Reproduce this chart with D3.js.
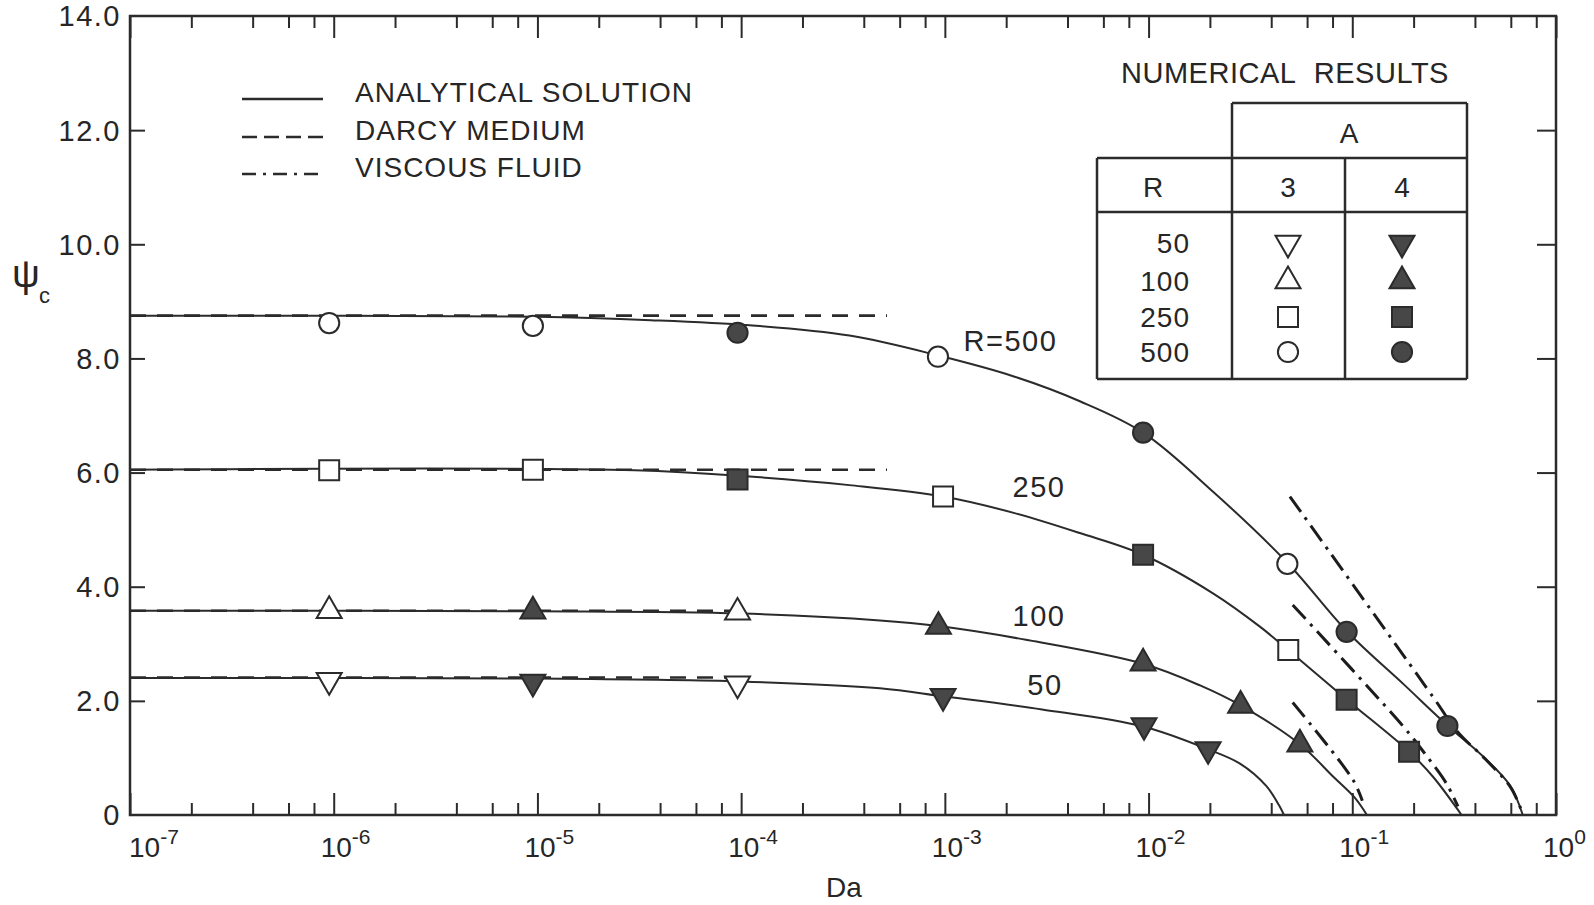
<!DOCTYPE html>
<html><head><meta charset="utf-8">
<script src="https://cdn.jsdelivr.net/npm/d3@7"></script>
<style>
html,body{margin:0;padding:0;background:#fff;}
svg{display:block;}
text{font-family:"Liberation Sans",Arial,sans-serif;fill:#262626;}
</style></head><body>
<svg id="chart" width="1594" height="905"></svg>
<script>
// ---------------- data ----------------
const decadeExponents = [-7, -6, -5, -4, -3, -2, -1, 0];
const minorMultipliers = [2, 4, 6, 8];
const yTickValues = [2, 4, 6, 8, 10, 12];
const yLabelValues = [0, 2, 4, 6, 8, 10, 12, 14];
const yLabelTexts = ["0", "2.0", "4.0", "6.0", "8.0", "10.0", "12.0", "14.0"];

// analytical solution  [Da, psi_c]
const analyticalR500 = [[1e-7,8.75],[1e-5,8.73],[3.6e-5,8.67],[1.1e-4,8.58],[3.4e-4,8.40],[9.3e-4,8.05],[2.2e-3,7.68],[4.6e-3,7.25],[9.4e-3,6.70],[0.0208,5.66],[0.048,4.42],[0.094,3.22],[0.18,2.28],[0.293,1.57],[0.44,1.02],[0.594,0.52],[0.687,0]];
const analyticalR250 = [[1e-7,6.05],[3e-5,6.04],[1.1e-4,5.93],[3.4e-4,5.78],[9.8e-4,5.58],[2.2e-3,5.29],[4.6e-3,4.94],[9.4e-3,4.56],[0.0208,3.88],[0.0352,3.30],[0.0485,2.89],[0.094,2.02],[0.19,1.11],[0.249,0.67],[0.344,0]];
const analyticalR100 = [[1e-7,3.58],[1e-5,3.57],[1e-4,3.53],[4.8e-4,3.41],[9.3e-4,3.31],[2.5e-3,3.07],[9.4e-3,2.65],[0.0179,2.27],[0.0283,1.92],[0.0553,1.24],[0.0807,0.67],[0.103,0.30],[0.118,0]];
const analyticalR50 = [[1e-7,2.40],[1e-5,2.39],[1e-4,2.34],[4.8e-4,2.22],[9.8e-4,2.08],[3e-3,1.85],[9.4e-3,1.55],[0.0196,1.15],[0.0281,0.90],[0.0378,0.51],[0.0437,0.17],[0.0462,0]];

// Darcy medium  (psi level, Da end)
const darcyR = [500, 250, 100, 50];
const darcyPsi = [8.75, 6.05, 3.58, 2.41];
const darcyEndDa = [5.2e-4, 5.2e-4, 9e-5, 9e-5];

// viscous fluid asymptotes [Da, psi_c]
const viscousR500 = [[0.0494,5.58],[0.249,2.07],[0.33,1.45],[0.45,0.98],[0.6,0.48],[0.68,0.06]];
const viscousR250 = [[0.051,3.68],[0.178,1.55],[0.23,1.05],[0.29,0.55],[0.33,0.15]];
const viscousR100 = [[0.051,1.97],[0.101,0.61],[0.112,0.25]];

// numerical results, A = 3 (open symbols)
const numA3R50  = [[9.5e-7,2.36],[9.6e-5,2.30]];
const numA3R100 = [[9.5e-7,3.58],[9.6e-5,3.55]];
const numA3R250 = [[9.5e-7,6.04],[9.5e-6,6.05],[9.8e-4,5.58],[0.0485,2.89]];
const numA3R500 = [[9.5e-7,8.62],[9.5e-6,8.57],[9.25e-4,8.03],[0.048,4.40]];
// numerical results, A = 4 (filled symbols)
const numA4R50  = [[9.5e-6,2.33],[9.8e-4,2.08],[9.5e-3,1.57],[0.0196,1.15]];
const numA4R100 = [[9.5e-6,3.57],[9.3e-4,3.30],[9.4e-3,2.66],[0.0283,1.92],[0.0553,1.24]];
const numA4R250 = [[9.6e-5,5.88],[9.4e-3,4.56],[0.0938,2.02],[0.19,1.11]];
const numA4R500 = [[9.6e-5,8.45],[9.4e-3,6.70],[0.0938,3.21],[0.293,1.56]];

// curve annotations
const curveLabelTexts = ["R=500", "250", "100", "50"];
const curveLabelDa = [2.1e-3, 2.9e-3, 2.9e-3, 3.1e-3];
const curveLabelPsi = [8.32, 5.76, 3.50, 2.29];

// legend / table text
const legendTexts = ["ANALYTICAL SOLUTION", "DARCY MEDIUM", "VISCOUS FLUID"];
const tableRValues = ["50", "100", "250", "500"];
const tableShapes = ["down", "up", "square", "circle"];

// ---------------- drawing ----------------
const ink = "#2b2b2b";
const fillDark = "#474747";
const svg = d3.select("#chart");
const x = d3.scaleLog().domain([1e-7, 1]).range([130, 1556]);
const y = d3.scaleLinear().domain([0, 14]).range([815, 16]);

const majors = decadeExponents.map(e => Math.pow(10, e));
const minors = [];
decadeExponents.slice(0, -1).forEach(e => minorMultipliers.forEach(m => minors.push(m * Math.pow(10, e))));

function tickAxis(axis, tr) {
  const g = svg.append("g").attr("transform", tr).call(axis);
  g.select(".domain").remove();
  g.selectAll("line").attr("stroke", ink).attr("stroke-width", 2);
  g.selectAll("text").remove();
  return g;
}
tickAxis(d3.axisTop(x).tickValues(majors).tickSize(22).tickFormat(""), "translate(0,815)");
tickAxis(d3.axisTop(x).tickValues(minors).tickSize(12).tickFormat(""), "translate(0,815)");
tickAxis(d3.axisBottom(x).tickValues(majors).tickSize(22).tickFormat(""), "translate(0,16)");
tickAxis(d3.axisBottom(x).tickValues(minors).tickSize(12).tickFormat(""), "translate(0,16)");
tickAxis(d3.axisRight(y).tickValues(yTickValues).tickSize(15).tickFormat(""), "translate(130,0)");
tickAxis(d3.axisLeft(y).tickValues(yTickValues).tickSize(19).tickFormat(""), "translate(1556,0)");

// frame
svg.append("rect").attr("x", x(1e-7)).attr("y", y(14))
  .attr("width", x(1) - x(1e-7)).attr("height", y(0) - y(14))
  .attr("fill", "none").attr("stroke", ink).attr("stroke-width", 2.5);

// y labels
svg.append("g").selectAll("text").data(yLabelValues).join("text")
  .attr("x", 121).attr("y", d => y(d)).attr("dy", "0.36em")
  .attr("text-anchor", "end").attr("font-size", 29).attr("letter-spacing", 1.5)
  .text((d, i) => yLabelTexts[i]);

// x labels
const xl = svg.append("g").selectAll("text").data(decadeExponents).join("text")
  .attr("x", d => Math.max(x(Math.pow(10, d)) - 13, 129)).attr("y", 857)
  .attr("font-size", 28);
xl.append("tspan").text("10");
xl.append("tspan").attr("dy", -13).attr("font-size", 21).text(d => d === 0 ? "0" : "-" + Math.abs(d));

// axis titles
svg.append("text").attr("x", 844).attr("y", 897).attr("text-anchor", "middle").attr("font-size", 28).text("Da");
svg.append("text").attr("x", 12).attr("y", 287).attr("font-size", 39).text("ψ");
svg.append("text").attr("x", 39).attr("y", 303).attr("font-size", 22).text("c");

const line = d3.line().x(d => x(d[0])).y(d => y(d[1])).curve(d3.curveCatmullRom.alpha(0.5));
const plot = svg.append("g");

// darcy dashed
plot.selectAll(".darcy").data(darcyR).join("line").attr("class", "darcy")
  .attr("x1", x(1e-7)).attr("x2", (d, i) => x(darcyEndDa[i]))
  .attr("y1", (d, i) => y(darcyPsi[i])).attr("y2", (d, i) => y(darcyPsi[i]))
  .attr("stroke", ink).attr("stroke-width", 2.6).attr("stroke-dasharray", "16,11");

// analytical
[analyticalR500, analyticalR250, analyticalR100, analyticalR50].forEach(s =>
  plot.append("path").datum(s).attr("d", line).attr("fill", "none").attr("stroke", ink).attr("stroke-width", 2));

// viscous
[viscousR500, viscousR250, viscousR100].forEach(s =>
  plot.append("path").datum(s).attr("d", line).attr("fill", "none").attr("stroke", "#1c1c1c")
    .attr("stroke-width", 3).attr("stroke-dasharray", "19,7,3,7"));

// symbols
function symPath(shape) {
  if (shape === "circle") return d3.symbol(d3.symbolCircle, 320)();
  if (shape === "square") return d3.symbol(d3.symbolSquare, 400)();
  return d3.symbol(d3.symbolTriangle, 270)();
}
function drawMarkers(data, shape, filled) {
  plot.append("g").selectAll("path").data(data).join("path")
    .attr("d", symPath(shape))
    .attr("transform", d => `translate(${x(d[0])},${y(d[1])})` + (shape === "down" ? " rotate(180)" : ""))
    .attr("fill", filled ? fillDark : "#fff").attr("stroke", ink).attr("stroke-width", 2);
}
drawMarkers(numA3R50, "down", false);
drawMarkers(numA3R100, "up", false);
drawMarkers(numA3R250, "square", false);
drawMarkers(numA3R500, "circle", false);
drawMarkers(numA4R50, "down", true);
drawMarkers(numA4R100, "up", true);
drawMarkers(numA4R250, "square", true);
drawMarkers(numA4R500, "circle", true);

// curve labels
svg.append("g").selectAll("text").data(curveLabelTexts).join("text")
  .attr("x", (d, i) => x(curveLabelDa[i])).attr("y", (d, i) => y(curveLabelPsi[i])).attr("dy", "0.36em")
  .attr("text-anchor", "middle").attr("font-size", 29).attr("letter-spacing", 1.5).text(d => d);

// legend
const lg = svg.append("g");
const legendY = [99, 137, 174];
const legendDash = [null, "15,7", "14,7,3,7"];
legendTexts.forEach((t, i) => {
  lg.append("line").attr("x1", 242).attr("x2", 323).attr("y1", legendY[i]).attr("y2", legendY[i])
    .attr("stroke", ink).attr("stroke-width", 2.5).attr("stroke-dasharray", legendDash[i]);
  lg.append("text").attr("x", 355).attr("y", legendY[i] + 3).attr("font-size", 28).attr("letter-spacing", 1).text(t);
});

// numerical results table
const tb = svg.append("g");
tb.append("text").attr("x", 1285).attr("y", 83).attr("text-anchor", "middle").attr("font-size", 29)
  .attr("letter-spacing", 0.5).attr("word-spacing", 10).text("NUMERICAL RESULTS");
const tl = (x1, y1, x2, y2) => tb.append("line").attr("x1", x1).attr("y1", y1).attr("x2", x2).attr("y2", y2)
  .attr("stroke", ink).attr("stroke-width", 2.5);
tl(1232, 103, 1467, 103); tl(1232, 103, 1232, 379); tl(1467, 103, 1467, 379);
tl(1097, 158, 1467, 158); tl(1097, 158, 1097, 379); tl(1097, 379, 1467, 379);
tl(1345, 158, 1345, 379); tl(1097, 212, 1467, 212);
tb.append("text").attr("x", 1349).attr("y", 143).attr("text-anchor", "middle").attr("font-size", 28).text("A");
tb.append("text").attr("x", 1153).attr("y", 197).attr("text-anchor", "middle").attr("font-size", 28).text("R");
tb.append("text").attr("x", 1288).attr("y", 197).attr("text-anchor", "middle").attr("font-size", 28).text("3");
tb.append("text").attr("x", 1402).attr("y", 197).attr("text-anchor", "middle").attr("font-size", 28).text("4");
const rowY = [243, 281, 317, 352];
tableRValues.forEach((r, i) => {
  tb.append("text").attr("x", 1190).attr("y", rowY[i] + 10).attr("text-anchor", "end").attr("font-size", 28)
    .attr("letter-spacing", 1).text(r);
  const sh = tableShapes[i];
  [[1288, false], [1402, true]].forEach(([cx, f]) => {
    tb.append("path").attr("d", symPath(sh))
      .attr("transform", `translate(${cx},${rowY[i]})` + (sh === "down" ? " rotate(180)" : ""))
      .attr("fill", f ? fillDark : "#fff").attr("stroke", ink).attr("stroke-width", 2);
  });
});
</script>
</body></html>
